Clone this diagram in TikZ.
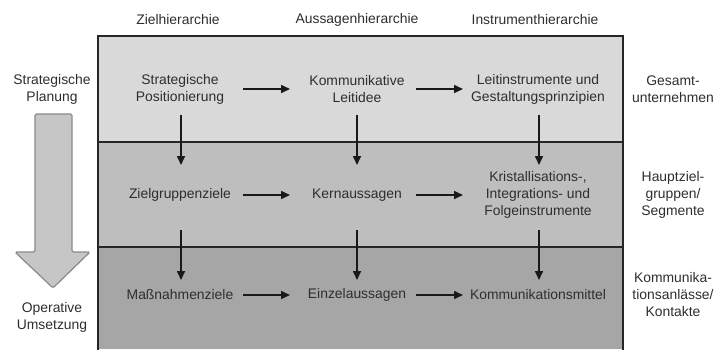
\documentclass[tikz,border=0pt]{standalone}
\usepackage{fontspec}
\setmainfont{Liberation Sans}
\usetikzlibrary{arrows.meta}
\definecolor{bandA}{HTML}{D9D9D9}
\definecolor{bandB}{HTML}{BEBEBE}
\definecolor{bandC}{HTML}{A6A6A6}
\definecolor{txt}{HTML}{2E2E2E}
\definecolor{bigfill}{HTML}{C6C6C6}
\definecolor{bigline}{HTML}{8A8A8A}
\begin{document}
\begin{tikzpicture}[x=1pt,y=-1pt,
  lbl/.style={font=\fontsize{13.9}{17}\selectfont, text=txt, align=center, inner sep=0pt},
  arr/.style={-{Triangle[length=9pt,width=8pt]}, line width=1.6pt, draw=black!90},
  frame/.style={line width=1.8pt, draw=black!85}]
\useasboundingbox (0,0) rectangle (717,349);
% bands
\fill[bandA] (98,36) rectangle (623,142);
\fill[bandB] (98,142) rectangle (623,247);
\fill[bandC] (98,247) rectangle (623,349);
\draw[frame] (98,142) -- (623,142);
\draw[frame] (98,247) -- (623,247);
\draw[frame] (98,352) -- (98,36) -- (623,36) -- (623,352);
% big arrow
\draw[fill=bigfill, draw=bigline, line width=1.2pt, rounded corners=1.5pt]
  (35,114) -- (72,114) -- (72,252) -- (90,252) -- (53,288) -- (15,252) -- (35,252) -- cycle;
% headers
\node[lbl] (h1) at (178,20) {Zielhierarchie};
\node[lbl] (h2) at (357,20) {Aussagenhierarchie};
\node[lbl] (h3) at (535,20) {Instrumenthierarchie};
% left labels
\node[lbl] (sp0) at (52,89) {Strategische\\Planung};
\node[lbl] (ou0) at (52,317) {Operative\\Umsetzung};
% right labels
\node[lbl] (r1) at (673,89) {Gesamt-\\unternehmen};
\node[lbl] (r2) at (673,195) {Hauptziel-\\gruppen/\\Segmente};
\node[lbl] (r3) at (673,295) {Kommunika-\\tionsanlässe/\\Kontakte};
% row 1
\node[lbl] (a1) at (180,89) {Strategische\\Positionierung};
\node[lbl] (b1) at (357,89) {Kommunikative\\Leitidee};
\node[lbl] (c1) at (538,89) {Leitinstrumente und\\Gestaltungsprinzipien};
% row 2
\node[lbl] (a2) at (180,195) {Zielgruppenziele};
\node[lbl] (b2) at (357,195) {Kernaussagen};
\node[lbl] (c2) at (538,195) {Kristallisations-,\\Integrations- und\\Folgeinstrumente};
% row 3
\node[lbl] (a3) at (180,295) {Maßnahmenziele};
\node[lbl] (b3) at (357,295) {Einzelaussagen};
\node[lbl] (c3) at (538,295) {Kommunikationsmittel};
% horizontal arrows
\foreach \r in {1,2,3}{
  \draw[arr, shorten <=63pt, shorten >=67pt] (a\r.center) -- (b\r.center);
  \draw[arr, shorten <=59pt, shorten >=75pt] (b\r.center) -- (c\r.center);
}
% vertical arrows
\foreach \c/\dx in {a/1,b/0,c/1}{
  \draw[arr, shorten <=26pt, shorten >=30pt] ([xshift=\dx pt]\c1.center) -- ([xshift=\dx pt]\c2.center);
  \draw[arr, shorten <=35pt, shorten >=15pt] ([xshift=\dx pt]\c2.center) -- ([xshift=\dx pt]\c3.center);
}
\end{tikzpicture}
\end{document}
